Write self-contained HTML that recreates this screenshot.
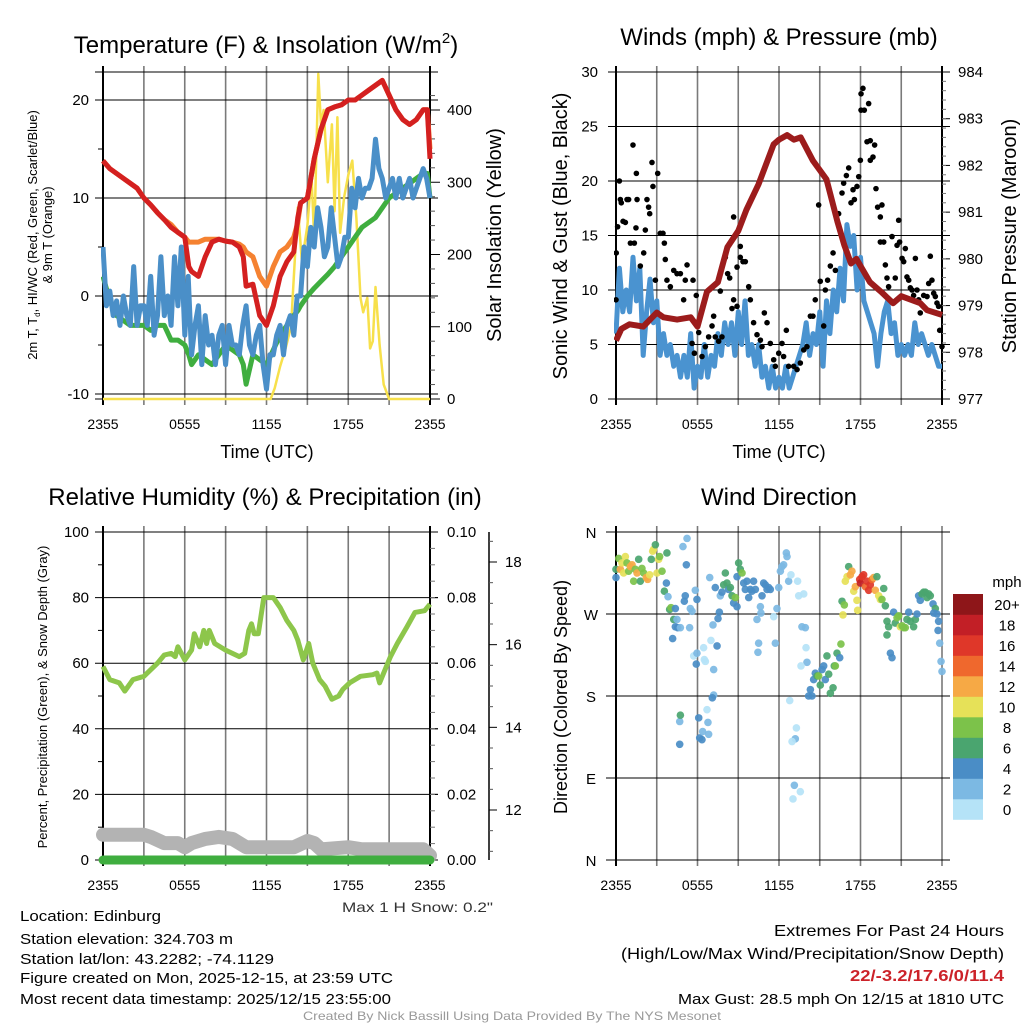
<!DOCTYPE html>
<html><head><meta charset="utf-8"><style>
html,body{margin:0;padding:0;background:#fff}
svg{display:block;font-family:"Liberation Sans",sans-serif}
</style></head><body>
<svg id="root" width="1024" height="1024" viewBox="0 0 1024 1024" xmlns="http://www.w3.org/2000/svg">
<g id="layer"></g>
</svg>
<script>
// ---------- DATA ----------
const timeTickLabels = ["2355","0555","1155","1755","2355"];
// Panel 1: temperature (hours since 2355)
const tempH = [0,0.5,1,1.5,2,2.5,3,3.5,4,4.5,5,5.5,6,6.3,6.5,7,7.5,8,8.5,9,9.5,10,10.3,10.5,11,11.5,12,12.5,13,13.5,14,14.3,14.5,15,15.5,16,16.5,17,17.5,18,18.5,19,19.5,20,20.5,21,21.5,22,22.5,23,23.5,23.8,24];
const tempRed = [13.8,13,12.5,12,11.5,11,10,9.3,8.5,7.8,7,6.5,6,3,2.5,2,4,5.5,5.8,5.6,5.5,5,4,1,1.2,-2,-3,-1,2,3.5,4.5,8,9.5,10,14,17,19,19.3,19.5,20,20,20.5,21,21.5,22,20.5,19,18,17.5,18,19,19,14];
const temp9m = [13.8,13,12.5,12,11.5,11,10,9.3,8.5,7.8,7.3,6.5,6,5.5,5.5,5.5,5.8,5.8,5.8,5.6,5.5,5.3,5,4.5,4,2,1,3,4.5,5,6,7.5,9.5,10,14,17,19,19.3,19.5,20,20,20.5,21,21.5,22,20.5,19,18,17.5,18,19,19,15];
const dewH = [0,0.25,0.5,0.75,1,1.25,1.5,1.75,2,2.25,2.5,2.75,3,3.25,3.5,3.75,4,4.25,4.5,4.75,5,5.25,5.5,5.75,6,6.25,6.5,6.75,7,7.25,7.5,7.75,8,8.25,8.5,8.75,9,9.25,9.5,9.75,10,10.25,10.5,10.75,11,11.25,11.5,11.75,12,12.25,12.5,12.75,13,13.25,13.5,13.75,14,14.25,14.5,14.75,15,15.25,15.5,15.75,16,16.25,16.5,16.75,17,17.25,17.5,17.75,18,18.25,18.5,18.75,19,19.25,19.5,19.75,20,20.25,20.5,20.75,21,21.25,21.5,21.75,22,22.25,22.5,22.75,23,23.25,23.5,23.75,24];
const dewBlue = [5,-1,0.5,-2,-0.5,-3,0,-2,-3,3,-3,-1,-1,-3,2,-4,-2,4,-2,0,-3,4,-1,5,-4,2,-6,-3,-1,-7,-2,-5,-4,-7,-4,-3,-7,-3,-5,-5,-6,-3,-1,-5,-6,-4,-3,-7,-9.5,-6,-6,-4,-3,-6,-3,-2,-4,0,0,5,3,7,5,9,7,4,5,9,6,3,4,6,6,11,9,12,10,11,11,12,16,13,12,10,11,12,10,12,10,11,12,10,11,12,13,12,10];
const hiwcGreen = [2,-0.5,-2,-2.5,-3,-3,-3,-3.5,-3,-3,-4.5,-4.5,-5,-6,-7,-6,-6.5,-7,-6,-5,-5.5,-6,-7,-9,-6,-6.5,-7,-5.5,-4,-3,-2,-1.5,-1,0,0.8,1.5,2.2,3,4,5,6,7,7.5,8,9,10,10.5,11,11.5,12,12.5,12.5,10];
const solarH = [0,12,12.3,12.6,13,13.4,13.8,14.1,14.3,14.6,15,15.3,15.5,15.8,16,16.2,16.5,16.8,17,17.2,17.4,17.7,18,18.3,18.6,18.9,19.1,19.4,19.6,19.8,20,20.3,20.6,21,24];
const solarW = [0,0,0,15,45,70,100,200,265,190,240,310,220,450,380,400,300,380,260,390,230,280,310,330,250,140,120,140,70,80,155,75,20,0,0];
// Panel 2: winds & pressure
const windH = dewH;
const windBlue = [6,12,8,10,8,13,9,12,4,8,11,7,9,4,6,4,5,3,4,2,4,2,6,1,3,2,5,2,4,3,6,4,7,5,7,4,8,5,9,4,5,3,5,2,3,1,3,1,2,1,3,1,2,3,4,5,7,4,6,5,8,3,9,6,10,8,12,9,16,14,15,10,13,9,8,7,6,3,6,8,9,6,7,4,5,4,5,4,7,5,6,5,4,5,4,3,3];
const presH = [0,0.4,1,2,3,3.5,4.5,5.5,6,6.7,7.5,8.2,9,9.6,10.5,11.6,12,12.6,13.1,13.6,14.5,15.5,16.3,16.8,17.3,17.7,18.7,19.5,20.4,21,22.4,22.9,24];
const presMb = [978.25,978.5,978.6,978.55,978.85,978.75,978.7,978.75,978.55,979.3,979.5,980.25,980.6,981.05,981.6,982.45,982.55,982.65,982.55,982.6,982.1,981.7,980.8,980.3,979.9,980.0,979.5,979.3,979.05,979.2,979.05,978.9,978.8];
const gustH = [0,0.02,0.12,0.25,0.32,0.39,0.52,0.69,0.81,0.93,1.06,1.25,1.35,1.47,1.55,1.5,1.79,2.04,2.16,2.28,2.4,2.48,2.65,2.72,2.9,3.07,3.26,3.46,3.56,3.63,3.75,4,4.25,4.49,4.74,4.98,5.1,5.23,5.67,5.91,5.6,5.77,6.09,6.33,6.58,6.82,7.07,7.19,7.31,7.56,7.68,7.8,8.05,8.22,8.37,8.54,8.66,8.91,9.15,9.35,9.52,8.66,8.91,9.15,9.77,9.89,10.13,10.38,10.63,10.75,10.92,11.12,11.36,11.61,11.73,11.98,12.22,12.54,12.34,12.71,13.08,13.33,13.57,13.82,14.06,14.31,14.5,14.67,15.04,14.92,15.29,15.41,15.58,15.78,15.98,16.15,16.39,16.64,16.76,16.96,17.13,17.3,17.45,17.55,17.74,17.87,17.99,18.04,18.18,18.04,18.28,18.6,18.48,18.72,18.72,18.92,19.04,19.14,19.26,19.46,19.58,19.46,19.71,19.83,19.95,20.07,20.32,20.56,20.81,20.88,20.69,21.06,21.18,21.3,21.42,21.55,21.67,21.79,21.91,22.04,22.16,22.28,22.4,22.65,22.9,23.02,23.14,23.26,23.39,23.51,23.63,23.75,23.83,24];
const gustV = [9.1,13.4,15.8,20,18.3,18,16.3,16.2,18.3,18.3,14.3,23.3,14.3,15.7,18.3,20.7,12.2,13.4,15.5,18.3,17.6,17,21.7,19.5,10.9,20.7,15.2,15.2,14.3,12.8,10.9,10.3,11.8,11.5,11.5,9.1,10.9,12.3,10.9,9.5,5.1,4.2,6.1,3.9,4.8,5.7,6.7,7.6,5.7,5.3,9.9,5.7,13,11.5,11.1,8.3,16.7,12.1,14,12.6,12.6,9.1,8.5,13,10.3,9.1,7,5.9,5.4,4.8,7.9,7,5.1,3.6,3,4.2,5.1,6.3,3.9,3,3,2.7,3.3,4.5,4.8,7.6,7.6,9.1,10.8,17.8,6.7,10,10.9,12.2,13.4,11.8,17,18.9,19.8,20.5,21.2,18,19.2,18.3,19.5,20.4,21.9,28,28.5,26.5,26.5,27.1,23.6,23.7,21.9,22.2,23.3,19.3,17.6,16.7,17.8,14.4,14.4,12.3,11.1,10.3,14.9,11.1,16.4,14.4,14.1,12.9,12.6,13.8,11.2,10.9,10.2,10,9.5,12.9,10,9.1,7.9,9.5,9.4,10.6,13.1,10.9,9.7,9.4,8.8,8.5,6.3,4.8];
// Panel 3: RH, precip, snow depth
const rhH = [0,0.5,1.2,1.6,2.2,3,4,4.5,5,5.3,5.5,6,6.5,6.7,7.1,7.4,7.6,7.8,8.2,9,10,10.4,10.7,10.9,11.1,11.4,11.8,12.5,13,13.5,14,14.3,14.7,15.1,15.4,15.9,16.3,16.8,17.3,17.6,18.1,18.9,19.8,20.1,20.3,20.7,21.1,21.6,22.3,22.9,23.6,24];
const rhPct = [59,55,54,51.5,55,56,60,62.5,63,62,65,61,64,69,65,70,66,70,66,64,62,63,70,72,69,69,80,80,77,73,70,67,61,66,60,55,53,49,50,52,54,56,56.5,57,54,58,62,66,71,75.5,76,78];
const precipH = [0,24];
const precipIn = [0,0];
const snowH = [0,3,3.5,4.5,5.5,6,6.5,7.5,8.5,9.5,10.5,11,14,15,15.5,16,18,19,22,23.5,24];
const snowIn = [11.4,11.4,11.35,11.2,11.2,11.1,11.2,11.3,11.35,11.3,11.1,11.1,11.1,11.25,11.2,11.05,11.1,11.05,11.05,11.05,10.9];
// Panel 4: wind direction
const dirLabels = ["N","W","S","E","N"];
const dirH = [0,0,0.2,0.32,0.44,0.56,0.69,0.81,0.93,1.06,1.18,1.3,1.42,1.55,1.67,1.79,1.91,2.04,2.23,2.33,2.48,2.6,2.7,2.77,2.9,3.02,3.14,3.21,3.39,3.56,3.71,3.75,3.83,3.95,4.05,4.25,4.37,4.49,4.37,4.54,4.17,4.74,4.69,4.74,4.69,4.93,5.23,5.18,5.1,5.03,5.42,5.47,5.6,5.72,5.84,5.91,5.96,5.96,6.09,6.16,6.33,6.38,6.45,6.5,6.58,6.7,6.77,6.82,6.9,6.99,7.14,7.19,7.19,7.09,7.31,7.44,7.51,7.61,7.68,7.8,7.93,8.05,8.17,8.29,8.42,8.54,8.66,8.79,8.91,8.91,9.03,9.15,9.28,9.4,9.52,9.64,9.77,9.89,10.01,10.13,10.26,10.38,10.5,10.45,10.63,10.67,10.75,10.87,10.99,11.12,11.24,11.36,11.61,11.73,11.85,11.98,12.1,12.22,12.34,12.54,12.59,12.71,12.88,13.37,13.45,13.82,13.69,13.94,13.99,14.06,13.62,12.79,13.28,13.2,12.96,13.13,13.57,13.03,14.31,14.18,14.43,14.55,14.67,14.8,14.92,15.04,15.17,15.29,15.41,15.53,15.66,15.78,15.98,16.07,16.15,16.27,16.47,16.56,16.71,16.64,16.81,16.88,17.01,17.13,17.25,17.37,17.5,17.62,17.74,17.79,17.94,17.99,18.11,18.23,18.36,18.48,18.6,18.72,18.85,18.97,19.09,19.21,19.34,19.46,19.58,19.71,19.83,19.95,19.95,20.07,20.2,20.32,20.44,20.56,20.69,20.81,20.93,21.06,21.18,21.3,21.42,21.55,21.67,21.91,22.04,22.16,22.28,22.4,22.53,22.65,22.77,22.9,23.02,23.14,23.34,23.51,23.39,23.63,23.75,23.71,23.83,23.93,24];
const dirDeg = [310,319,331,319,326,315,333,326,317,322,324,306,319,315,330,306,320,315,310,308,313,330,339,341,346,315,330,333,317,295,304,337,289,275,277,264,276,264,256,255,243,255,152,159,127,344,353,324,290,284,255,276,273,224,296,215,227,286,156,134,132,141,233,220,218,165,151,138,310,241,258,209,181,178,299,235,265,272,290,294,302,315,304,297,299,290,282,288,311,278,326,319,315,304,297,306,288,297,295,306,297,264,238,228,278,271,290,304,302,297,299,297,267,238,276,299,317,322,324,337,333,306,313,306,290,292,256,255,233,217,213,175,145,133,130,82,75,67,187,180,180,198,205,202,202,192,209,213,198,224,204,183,189,213,213,227,222,237,269,284,280,306,311,322,313,317,295,300,285,274,308,304,311,313,300,306,296,302,308,310,296,311,290,286,286,298,279,262,247,256,227,222,272,260,266,268,256,257,255,255,264,272,262,256,264,270,290,285,292,294,294,288,292,290,281,276,271,270,262,252,238,218,207];
const dirSpd = [5,7,9,13,11,11,11,9,9,13,13,9,9,13,7,7,9,9,13,13,11,7,11,11,7,11,11,9,9,7,5,7,3,7,9,7,5,3,5,5,5,3,3,7,5,3,3,5,5,5,3,3,3,1,3,5,3,5,5,5,5,3,1,1,1,1,3,3,3,1,3,3,3,5,5,5,5,5,3,5,7,7,7,5,7,7,5,9,5,5,7,7,9,5,5,5,5,5,5,5,5,3,3,3,3,3,5,5,5,5,5,5,1,3,3,3,3,3,3,3,3,3,1,1,1,1,3,3,1,3,1,1,1,3,1,3,1,1,5,5,5,5,5,7,9,7,5,5,5,7,7,7,7,7,9,7,5,9,11,7,9,11,11,7,13,13,11,13,11,11,17,19,17,17,15,17,17,17,15,13,13,7,11,11,9,7,7,7,7,7,5,5,5,7,9,9,11,9,9,9,7,5,7,7,7,5,5,5,7,7,7,7,7,7,5,7,5,5,5,5,3,3,3];
const speedBinLabels = ["0","2","4","6","8","10","12","14","16","18","20+"];
const speedBinColors = ["#b5e3f7","#7cb9e3","#4a8dc6","#4aa56f","#7cc24a","#e6e158","#f6a945","#ef682d","#df3729","#c21f26","#8e1619"];
// ---------- DRAW ----------
const NS="http://www.w3.org/2000/svg";
const layer=document.getElementById('layer');
function mk(tag,attrs,parent){const e=document.createElementNS(NS,tag);for(const k in attrs)e.setAttribute(k,attrs[k]);(parent||layer).appendChild(e);return e;}
function txt(s,x,y,size,anchor,parent,extra){const t=mk('text',Object.assign({x:x,y:y,'font-size':size,'text-anchor':anchor||'middle',fill:'#000'},extra||{}),parent);t.textContent=s;return t;}
function linScale(d0,d1,r0,r1){return v=>r0+(v-d0)*(r1-r0)/(d1-d0);}
function pathD(xs,ys,fx,fy){let d='';for(let i=0;i<xs.length;i++){d+=(i?'L':'M')+fx(xs[i]).toFixed(1)+' '+fy(ys[i]).toFixed(1);}return d;}

function frame(g,x0,x1,y0,y1,hLinesY){
  for(let i=0;i<=8;i++){const x=x0+(x1-x0)*i/8;
    const l=mk('line',{x1:x,x2:x,y1:y0-6,y2:y1+6,stroke:(i==0||i==8)?'#000':'#7a7a7a','stroke-width':(i==0||i==8)?2:1.6},g);
    
    }
  hLinesY.forEach(y=>{const l=mk('line',{x1:x0-8,x2:x1+8,y1:y,y2:y,stroke:'#000','stroke-width':1},g);
    
    });
}
function xLabels(g,x0,x1,y){timeTickLabels.forEach((s,i)=>{const t=txt(s,x0+(x1-x0)*i/4,y,14,'middle',g);
  
  });}

// ===== Panel 1 =====
const g1=mk('g',{});
const p1x=linScale(0,24,103,430), p1y=linScale(0,10,296,198), p1s=linScale(0,400,399,110);
txt('Temperature (F) & Insolation (W/m',266,53,24,'middle',g1).innerHTML='Temperature (F) &amp; Insolation (W/m<tspan font-size="15" dy="-10">2</tspan><tspan dy="10">)</tspan>';

frame(g1,103,430,72,399,[72,p1y(20),p1y(10),p1y(0),p1y(-10),399]);
[20,10,0,-10].forEach(v=>{const t=txt(String(v),89,p1y(v)+5,15,'end',g1);});
[15,5,-5].forEach(v=>{mk('line',{x1:98,x2:103,y1:p1y(v),y2:p1y(v),stroke:'#000'},g1);});
[0,100,200,300,400].forEach(v=>{const t=txt(String(v),447,p1s(v)+5,15,'start',g1);
  mk('line',{x1:430,x2:440,y1:p1s(v),y2:p1s(v),stroke:'#000'},g1);});
for(let v=20;v<440;v+=20){if(v%100)mk('line',{x1:430,x2:435,y1:p1s(v),y2:p1s(v),stroke:'#555'},g1);}
let t1=txt('',0,0,13,'middle',g1,{transform:'translate(37,235) rotate(-90)'});t1.innerHTML='2m T, T<tspan font-size="8" dy="3">d</tspan><tspan dy="-3">, HI/WC (Red, Green, Scarlet/Blue)</tspan>';

t1=txt('& 9m T (Orange)',0,0,13,'middle',g1,{transform:'translate(52,235) rotate(-90)'});
t1=txt('Solar Insolation (Yellow)',0,0,20,'middle',g1,{transform:'translate(501,235) rotate(-90)'});
xLabels(g1,103,430,429);
t1=txt('Time (UTC)',267,458,18,'middle',g1);
const clip1=mk('clipPath',{id:'c1'},g1);mk('rect',{x:101,y:66,width:332,height:336},clip1);
const s1=mk('g',{'clip-path':'url(#c1)'},g1);
let p=mk('path',{d:pathD(solarH,solarW,p1x,p1s),fill:'none',stroke:'#f7e04b','stroke-width':2.5,'stroke-linejoin':'round'},s1);
p=mk('path',{d:pathD(tempH,hiwcGreen,p1x,p1y),fill:'none',stroke:'#3fae3f','stroke-width':5,'stroke-linejoin':'round'},s1);
p=mk('path',{d:pathD(tempH,temp9m,p1x,p1y),fill:'none',stroke:'#f58231','stroke-width':5,'stroke-linejoin':'round'},s1);
p=mk('path',{d:pathD(tempH,tempRed,p1x,p1y),fill:'none',stroke:'#d42020','stroke-width':5,'stroke-linejoin':'round'},s1);
p=mk('path',{d:pathD(dewH,dewBlue,p1x,p1y),fill:'none',stroke:'#4a8fc8','stroke-width':5,'stroke-linejoin':'round'},s1);

// ===== Panel 2 =====
const g2=mk('g',{});
const p2x=linScale(0,24,616,942), p2y=linScale(0,30,399,72), p2p=linScale(977,984,399,72);
t1=txt('Winds (mph) & Pressure (mb)',779,45,24,'middle',g2);
frame(g2,616,942,72,399,[0,5,10,15,20,25,30].map(p2y));
[0,5,10,15,20,25,30].forEach(v=>{const t=txt(String(v),598,p2y(v)+5,15,'end',g2);});
[977,978,979,980,981,982,983,984].forEach(v=>{const t=txt(String(v),958,p2p(v)+5,15,'start',g2);
  mk('line',{x1:942,x2:950,y1:p2p(v),y2:p2p(v),stroke:'#000'},g2);});
for(let v=977.2;v<984;v+=0.2){mk('line',{x1:942,x2:946,y1:p2p(v),y2:p2p(v),stroke:'#777'},g2);}
t1=txt('Sonic Wind & Gust (Blue, Black)',0,0,20,'middle',g2,{transform:'translate(567,236) rotate(-90)'});
t1=txt('Station Pressure (Maroon)',0,0,20,'middle',g2,{transform:'translate(1016,236) rotate(-90)'});
xLabels(g2,616,942,429);
t1=txt('Time (UTC)',779,458,18,'middle',g2);
const clip2=mk('clipPath',{id:'c2'},g2);mk('rect',{x:614,y:66,width:332,height:336},clip2);
const s2=mk('g',{'clip-path':'url(#c2)'},g2);
p=mk('path',{d:pathD(windH,windBlue,p2x,p2y),fill:'none',stroke:'#4a93d0','stroke-width':5,'stroke-linejoin':'round'},s2);
gustH.forEach((h,i)=>{const c=mk('circle',{cx:p2x(h),cy:p2y(gustV[i]),r:2.8,fill:'#000'},s2);
  
  });
p=mk('path',{d:pathD(presH,presMb,p2x,p2p),fill:'none',stroke:'#9c1c1c','stroke-width':6,'stroke-linejoin':'round'},s2);

// ===== Panel 3 =====
const g3=mk('g',{});
const p3x=linScale(0,24,103,430), p3y=linScale(0,100,860,532), p3p=linScale(0,0.1,860,532), p3s=linScale(12,18,810,562);
t1=txt('Relative Humidity (%) & Precipitation (in)',265,505,24,'middle',g3);
frame(g3,103,430,532,860,[0,20,40,60,80,100].map(p3y));
[0,20,40,60,80,100].forEach(v=>{const t=txt(String(v),89,p3y(v)+5,15,'end',g3);});
for(let v=10;v<100;v+=20)mk('line',{x1:98,x2:103,y1:p3y(v),y2:p3y(v),stroke:'#000'},g3);
["0.00","0.02","0.04","0.06","0.08","0.10"].forEach((s,i)=>{const t=txt(s,447,p3p(i*0.02)+5,15,'start',g3);
  mk('line',{x1:430,x2:438,y1:p3p(i*0.02),y2:p3p(i*0.02),stroke:'#000'},g3);});
for(let v=0.005;v<0.1;v+=0.005)mk('line',{x1:430,x2:435,y1:p3p(v),y2:p3p(v),stroke:'#777'},g3);
mk('line',{x1:489,x2:489,y1:532,y2:860,stroke:'#000','stroke-width':1.5},g3);
[12,14,16,18].forEach(v=>{const t=txt(String(v),505,p3s(v)+5,15,'start',g3);
  mk('line',{x1:489,x2:497,y1:p3s(v),y2:p3s(v),stroke:'#000'},g3);});
for(let v=11;v<18.7;v+=0.5){if(v%2)mk('line',{x1:489,x2:493,y1:p3s(v),y2:p3s(v),stroke:'#555'},g3);}
t1=txt('Percent, Precipitation (Green), & Snow Depth (Gray)',0,0,13,'middle',g3,{transform:'translate(47,697) rotate(-90)'});
xLabels(g3,103,430,890);
t1=txt('Max 1 H Snow: 0.2"',493,912,14,'end',g3,{textLength:151,lengthAdjust:'spacingAndGlyphs',fill:'#333'});
p=mk('path',{d:pathD(snowH,snowIn,p3x,p3s),fill:'none',stroke:'#b3b3b3','stroke-width':14,'stroke-linecap':'round','stroke-linejoin':'round'},g3);
p=mk('path',{d:pathD(precipH,precipIn,p3x,p3p),fill:'none',stroke:'#3fae3f','stroke-width':9,'stroke-linecap':'round'},g3);
p=mk('path',{d:pathD(rhH,rhPct,p3x,p3y),fill:'none',stroke:'#8dc64b','stroke-width':5,'stroke-linejoin':'round'},g3);

// ===== Panel 4 =====
const g4=mk('g',{});
const p4x=linScale(0,24,616,942), p4y=linScale(360,0,532,860);
t1=txt('Wind Direction',779,505,24,'middle',g4);
for(let i=0;i<=8;i++){const x=616+326*i/8;const l=mk('line',{x1:x,x2:x,y1:526,y2:866,stroke:(i==0)?'#000':'#7a7a7a','stroke-width':(i==0)?2:1.6},g4);
  
  }
dirLabels.forEach((s,i)=>{const y=532+82*i;const l=mk('line',{x1:606,x2:950,y1:y,y2:y,stroke:'#000','stroke-width':1},g4);
  
  
  const t=txt(s,591,y+6,15,'middle',g4);});
t1=txt('Direction (Colored By Speed)',0,0,18,'middle',g4,{transform:'translate(567,697) rotate(-90)'});
xLabels(g4,616,942,890);
dirH.forEach((h,i)=>{const b=Math.min(10,Math.floor(dirSpd[i]/2));const c=mk('circle',{cx:p4x(h),cy:p4y(dirDeg[i]),r:3.8,fill:speedBinColors[b],'fill-opacity':0.92},g4);
  
  });
t1=txt('mph',1007,587,15,'middle',g4);
speedBinLabels.forEach((s,i)=>{const y=594+(10-i)*20.5;
  const r=mk('rect',{x:953,y:y,width:30,height:20.8,fill:speedBinColors[i]},g4);
  
  
  const t=txt(s,1007,y+16,15,'middle',g4);});

// ===== Footer =====
const g5=mk('g',{});
[["Location: Edinburg",921,141],["Station elevation: 324.703 m",944,213],["Station lat/lon: 43.2282; -74.1129",964,254],["Figure created on Mon, 2025-12-15, at 23:59 UTC",983,373],["Most recent data timestamp: 2025/12/15 23:55:00",1004,371]].forEach(a=>{
  const t=txt(a[0],20,a[1],15,'start',g5,{textLength:a[2],lengthAdjust:'spacingAndGlyphs'});});
t1=txt('Extremes For Past 24 Hours',1004,936,16,'end',g5,{textLength:230,lengthAdjust:'spacingAndGlyphs'});
t1=txt('(High/Low/Max Wind/Precipitation/Snow Depth)',1004,959,16,'end',g5,{textLength:383,lengthAdjust:'spacingAndGlyphs'});
t1=txt('22/-3.2/17.6/0/11.4',1004,981,16,'end',g5,{textLength:154,lengthAdjust:'spacingAndGlyphs',fill:'#cc2229','font-weight':'bold'});
t1=txt('Max Gust: 28.5 mph On 12/15 at 1810 UTC',1004,1004,15,'end',g5,{textLength:326,lengthAdjust:'spacingAndGlyphs'});
t1=txt('Created By Nick Bassill Using Data Provided By The NYS Mesonet',512,1020,12,'middle',g5,{textLength:418,lengthAdjust:'spacingAndGlyphs',fill:'#999'});
</script>
</body></html>
